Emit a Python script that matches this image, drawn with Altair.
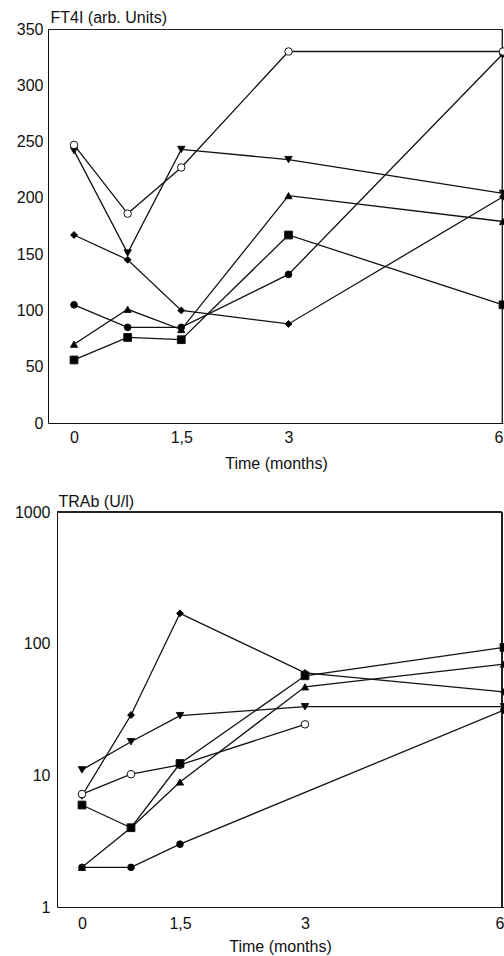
import altair as alt
import pandas as pd

# ---------------- data ----------------
months = [0, 0.75, 1.5, 3, 6]
series_names = ["filled circle", "diamond", "triangle up", "triangle down", "open circle", "square"]

# FT4I (arb. Units)
ft4i_filled_circle = [105, 85, 85, 132, 328]
ft4i_diamond = [167, 145, 100, 88, 201]
ft4i_triangle_up = [70, 101, 83, 202, 179]
ft4i_triangle_down = [242, 151, 243, 234, 204]
ft4i_open_circle = [247, 186, 227, 330, 330]
ft4i_square = [56, 76, 74, 167, 105]

# TRAb (U/l); None = no measurement
trab_filled_circle = [2.0, 2.0, 3.0, None, 31.3]
trab_diamond = [7.0, 28.7, 170, 60, 43]
trab_triangle_up = [2.0, 4.0, 8.9, 47, 70]
trab_triangle_down = [11.0, 18.0, 28.4, 33.2, 33.2]
trab_open_circle = [7.2, 10.2, 12.0, 24.4, None]
trab_square = [5.95, 4.0, 12.3, 57, 93.7]

x_tick_values = [0, 1.5, 3, 6]
ft4i_ticks = [0, 50, 100, 150, 200, 250, 300, 350]
trab_ticks = [1, 10, 100, 1000]

marker_shapes = ["circle", "diamond", "triangle-up", "triangle-down", "circle", "square"]
marker_fills = ["black", "black", "black", "black", "white", "black"]
marker_sizes = [45, 60, 65, 65, 70, 80]

ft4i_lists = [ft4i_filled_circle, ft4i_diamond, ft4i_triangle_up,
              ft4i_triangle_down, ft4i_open_circle, ft4i_square]
trab_lists = [trab_filled_circle, trab_diamond, trab_triangle_up,
              trab_triangle_down, trab_open_circle, trab_square]


def long_table(lists):
    rows = []
    for name, vals in zip(series_names, lists):
        for m, v in zip(months, vals):
            if v is not None:
                rows.append({"series": name, "month": m, "value": v})
    return pd.DataFrame(rows)


ft4i_df = long_table(ft4i_lists)
trab_df = long_table(trab_lists)

FONT = "Liberation Sans"
LABEL_EXPR = "datum.value == 1.5 ? '1,5' : '' + datum.value"
LABEL_ALIGN = alt.ExprRef("datum.value == 6 ? 'right' : 'center'")

# plot area (whole figure): 456 x 878, both panels placed inside via scale ranges
W, H = 456, 878


def panel(df, xscale, xaxis, yscale, yaxis, x_left, x_right, y_bottom, y_top):
    base = alt.Chart(df)
    x = alt.X("month:Q", scale=xscale, axis=xaxis)
    y = alt.Y("value:Q", scale=yscale, axis=yaxis)
    lines = base.mark_line(color="#111111", strokeWidth=1.3, clip=True).encode(
        x=x, y=y, detail="series:N", order="month:Q"
    )
    pts = base.mark_point(stroke="#111111", strokeWidth=1, opacity=1, fillOpacity=1, clip=True).encode(
        x=x,
        y=y,
        shape=alt.Shape("series:N", scale=alt.Scale(domain=series_names, range=marker_shapes), legend=None),
        fill=alt.Fill("series:N", scale=alt.Scale(domain=series_names, range=marker_fills), legend=None),
        size=alt.Size("series:N", scale=alt.Scale(domain=series_names, range=marker_sizes), legend=None),
    )
    top_frame = alt.Chart(df).mark_rule(color="#222222", strokeWidth=1, clip=True).encode(
        x=alt.datum(x_left), x2=alt.datum(x_right), y=alt.datum(y_top)
    )
    right_frame = alt.Chart(df).mark_rule(color="#222222", strokeWidth=1, clip=True).encode(
        x=alt.datum(x_right), y=alt.datum(y_bottom), y2=alt.datum(y_top)
    )
    return alt.layer(top_frame, right_frame, lines, pts)


top = panel(
    ft4i_df,
    alt.Scale(domain=[-0.364, 6.0], range=[0, 455], nice=False, zero=False),
    alt.Axis(orient="bottom", offset=-484, values=x_tick_values, labelExpr=LABEL_EXPR,
             labelAlign=LABEL_ALIGN, ticks=False, tickSize=0, grid=False, labelPadding=6,
             title="Time (months)", titleBaseline="alphabetic", titleY=45, titleX=228),
    alt.Scale(domain=[0, 350], range=[394, 0], nice=False, zero=False),
    alt.Axis(orient="left", values=ft4i_ticks, ticks=False, tickSize=0, grid=False, labelPadding=5,
             title="FT4I (arb. Units)", titleAngle=0, titleAlign="left", titleBaseline="alphabetic",
             titleX=2, titleY=-7),
    -0.364, 5.993, 0, 350,
)

bottom = panel(
    trab_df,
    alt.Scale(domain=[-0.37, 0, 1.5, 3, 6], range=[9, 34, 132, 257, 456], nice=False, zero=False),
    alt.Axis(orient="bottom", values=x_tick_values, labelExpr=LABEL_EXPR, labelAlign=LABEL_ALIGN,
             ticks=False, tickSize=0, grid=False, labelPadding=8, title="Time (months)",
             titleBaseline="alphabetic", titleY=44, titleX=232),
    alt.Scale(type="log", domain=[1, 1000], range=[878, 483], nice=False),
    alt.Axis(orient="left", offset=-9, values=trab_ticks, format="d", ticks=False, tickSize=0, grid=False,
             labelPadding=7, title="TRAb (U/l)", titleAngle=0, titleAlign="left",
             titleBaseline="alphabetic", titleX=1, titleY=477),
    -0.37, 5.965, 1, 1000,
)

chart = alt.layer(top, bottom).resolve_scale(x="independent", y="independent").properties(
    width=W,
    height=H,
    autosize=alt.AutoSizeParams(type="none"),
    padding={"left": 48, "top": 29, "right": 0, "bottom": 49},
    background="white",
).configure_view(stroke=None).configure_axis(
    domainColor="#111111",
    domainWidth=1,
    labelFont=FONT,
    labelFontSize=16,
    labelColor="#111111",
    titleFont=FONT,
    titleFontSize=16,
    titleFontWeight="normal",
    titleColor="#111111",
)

chart.save("out.html", embed_options={"renderer": "svg", "actions": False})
